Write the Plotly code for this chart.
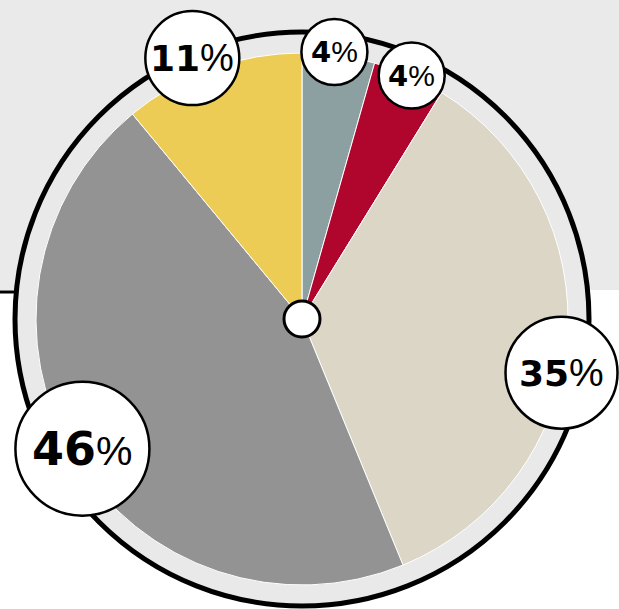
import math
import plotly.graph_objects as go

# ---- data ----
categories = ["A", "B", "C", "D", "E"]
values = [4.4, 4.4, 35.0, 45.2, 11.0]
labels_num = ["4", "4", "35", "46", "11"]
colors = ["#8c9fa1", "#b0052d", "#dbd6c6", "#939393", "#eccc55"]

# ---- styles ----
W, H = 619, 609
CX, CY = 302, 319
R_PIE = 266
R_RING = 287
bubble_r = [33, 33, 56, 67, 47]
bubble_dist = [269, 267, 265, 255, 283]
bubble_shift = [-1, 0.5, 7, 0.4, -3]
num_sizes = [29, 29, 36, 46, 36]
pct_sizes = [30, 30, 39, 41, 38]

fig = go.Figure()

fig.add_trace(go.Pie(
    labels=categories, values=values, sort=False, direction="clockwise",
    rotation=0, textinfo="none", hoverinfo="none", showlegend=False,
    marker=dict(colors=colors, line=dict(color="white", width=1)),
    domain=dict(x=[(CX - R_PIE) / W, (CX + R_PIE) / W],
                y=[(H - CY - R_PIE) / H, (H - CY + R_PIE) / H]),
))

shapes = []
shapes.append(dict(type="rect", xref="x", yref="y", x0=0, x1=W, y0=0, y1=290,
                   fillcolor="#eaeaea", line=dict(width=0), layer="below"))
shapes.append(dict(type="line", xref="x", yref="y", x0=0, x1=120, y0=292, y1=292,
                   line=dict(color="black", width=3), layer="below"))
shapes.append(dict(type="circle", xref="x", yref="y",
                   x0=CX - R_RING, x1=CX + R_RING, y0=CY - R_RING, y1=CY + R_RING,
                   fillcolor="#e9e9e9", line=dict(color="black", width=5), layer="below"))
shapes.append(dict(type="circle", xref="x", yref="y",
                   x0=CX - 18, x1=CX + 18, y0=CY - 18, y1=CY + 18,
                   fillcolor="white", line=dict(color="black", width=3), layer="above"))

annotations = []
total = sum(values)
cum = 0
for i, v in enumerate(values):
    mid = (cum + v / 2) / total * 360 + bubble_shift[i]
    cum += v
    a = math.radians(mid)
    bx = CX + bubble_dist[i] * math.sin(a)
    by = CY - bubble_dist[i] * math.cos(a)
    r = bubble_r[i]
    shapes.append(dict(type="circle", xref="x", yref="y",
                       x0=bx - r, x1=bx + r, y0=by - r, y1=by + r,
                       fillcolor="white", line=dict(color="black", width=2.5),
                       layer="above"))
    text = (f"<span style=\"font-family:'DejaVu Sans';font-size:{num_sizes[i]}px;font-weight:bold\">{labels_num[i]}</span>"
            f"%")
    annotations.append(dict(x=bx, y=by, xref="x", yref="y", showarrow=False,
                            text=text,
                            font=dict(family="Liberation Sans", size=pct_sizes[i], color="black"),
                            xanchor="center", yanchor="middle"))

fig.update_layout(
    width=W, height=H, margin=dict(l=0, r=0, t=0, b=0),
    paper_bgcolor="white", plot_bgcolor="rgba(0,0,0,0)",
    xaxis=dict(range=[0, W], visible=False, fixedrange=True, domain=[0, 1]),
    yaxis=dict(range=[H, 0], visible=False, fixedrange=True, domain=[0, 1]),
    shapes=shapes, annotations=annotations,
)

fig.write_html("out.html", config={"displayModeBar": False})

with open("out.html", "r", encoding="utf-8") as f:
    html = f.read()
html = html.replace("<head>", "<head><style>html,body{margin:0;padding:0;overflow:hidden;}</style>", 1)
with open("out.html", "w", encoding="utf-8") as f:
    f.write(html)
